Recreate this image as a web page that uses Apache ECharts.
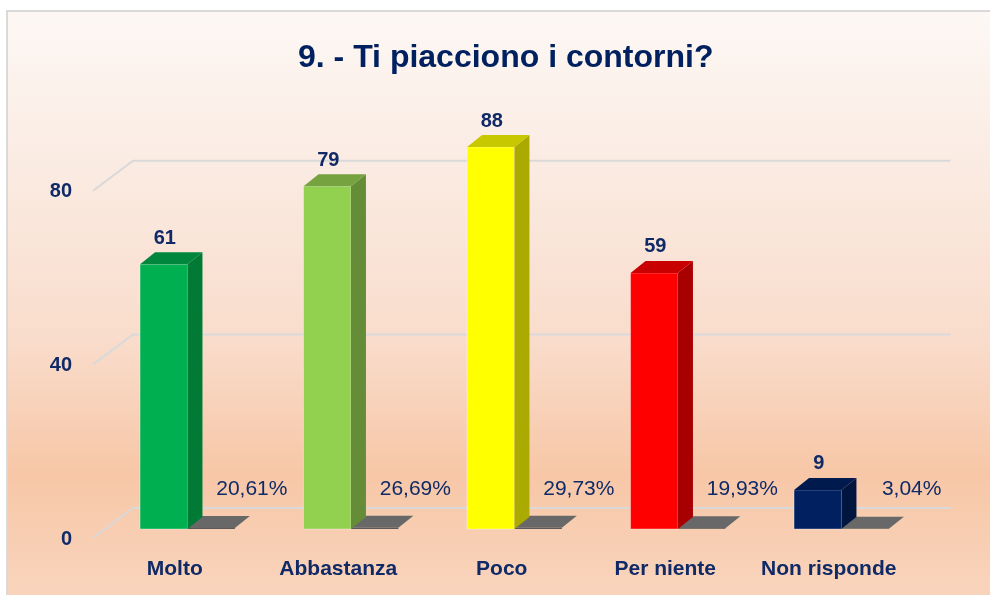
<!DOCTYPE html>
<html>
<head>
<meta charset="utf-8">
<title>9. - Ti piacciono i contorni?</title>
<script src="https://cdn.jsdelivr.net/npm/echarts@6/dist/echarts.min.js"></script>
<style>
html, body { margin: 0; padding: 0; background: #fff; }
#main { width: 990px; height: 595px; }
</style>
</head>
<body>
<div id="main"></div>
<script>
// dati
var categories = ['Molto', 'Abbastanza', 'Poco', 'Per niente', 'Non risponde'];
var counts = [61, 79, 88, 59, 9];
var percents = [20.61, 26.69, 29.73, 19.93, 3.04];
var yTicks = [0, 40, 80];

// colori delle facce (fronte / sopra / lato)
var frontColors = ['#00b050', '#92d050', '#ffff00', '#ff0000', '#002060'];
var topColors = ['#00873d', '#76a340', '#c8c800', '#c80000', '#001a4e'];
var sideColors = ['#007a35', '#658d37', '#aaaa00', '#a80000', '#00163f'];

var navy = '#0f2a66';
var font = 'Liberation Sans';
var DX = 15, DY = 12;

var barData = categories.map(function (c, i) { return [i, counts[i]]; });
var pctData = categories.map(function (c, i) { return [i, percents[i] / 100, percents[i]]; });
var gridData = yTicks.map(function (v) { return [v]; });

function renderBar(params, api) {
    var i = api.value(0);
    var base = api.coord([i, 0]);
    var top = api.coord([i, api.value(1)]);
    var w = api.size([1, 0])[0] * 0.29;
    var x0 = base[0] - w / 2, x1 = base[0] + w / 2;
    return {
        type: 'group',
        children: [
            { type: 'rect', shape: { x: x0, y: top[1], width: w, height: base[1] - top[1] },
              style: { fill: frontColors[i], stroke: 'rgba(255,255,255,0.35)', lineWidth: 1 } },
            { type: 'polygon', shape: { points: [[x1, top[1]], [x1 + DX, top[1] - DY], [x1 + DX, base[1] - DY], [x1, base[1]]] },
              style: { fill: sideColors[i] } },
            { type: 'polygon', shape: { points: [[x0, top[1]], [x0 + DX, top[1] - DY], [x1 + DX, top[1] - DY], [x1, top[1]]] },
              style: { fill: topColors[i] } },
            { type: 'text', style: { text: String(api.value(1)), x: base[0] + 1, y: top[1] - DY - 4,
              align: 'center', verticalAlign: 'bottom', fill: navy, font: 'bold 20px "' + font + '"' } }
        ]
    };
}

function renderShadow(params, api) {
    var i = api.value(0);
    var base = api.coord([i, 0]);
    var top = api.coord([i, api.value(1)]);
    var w = api.size([1, 0])[0] * 0.29;
    var x0 = base[0] + w / 2, x1 = x0 + w;
    return {
        type: 'group',
        children: [
            { type: 'rect', shape: { x: x0, y: top[1], width: w, height: base[1] - top[1] },
              style: { fill: '#5a5a5a' } },
            { type: 'polygon', shape: { points: [[x0, top[1]], [x0 + DX, top[1] - DY], [x1 + DX, top[1] - DY], [x1, top[1]]] },
              style: { fill: '#686868' } },
            { type: 'text', style: { text: api.value(2).toFixed(2).replace('.', ',') + '%', x: x0 + 100, y: base[1] - 40,
              align: 'right', verticalAlign: 'middle', fill: navy, font: '21px "' + font + '"' } }
        ]
    };
}

function renderGrid(params, api) {
    var y = api.coord([0, api.value(0)])[1];
    var cs = params.coordSys;
    return {
        type: 'polyline',
        shape: { points: [[cs.x + 11, y + 9], [cs.x + 51, y - 21], [cs.x + cs.width + 51, y - 21]] },
        style: { stroke: '#d9d9d9', lineWidth: 2, fill: null }
    };
}

var chart = echarts.init(document.getElementById('main'));
chart.setOption({
    backgroundColor: '#ffffff',
    animation: false,
    graphic: [{
        type: 'rect', z: -10, silent: true,
        shape: { x: 7, y: 11, width: 1000, height: 600 },
        style: {
            stroke: '#d9d9d9', lineWidth: 2,
            fill: new echarts.graphic.LinearGradient(0, 0, 0, 1, [
                { offset: 0, color: '#fdf8f5' },
                { offset: 0.3, color: '#fae9df' },
                { offset: 0.55, color: '#f9dccb' },
                { offset: 0.77, color: '#f7c7a7' },
                { offset: 1, color: '#f9d6bf' }
            ])
        }
    }],
    title: {
        text: '9. - Ti piacciono i contorni?',
        left: 298, top: 42, padding: 0,
        textStyle: { color: '#002060', fontSize: 32, fontWeight: 'bold', fontFamily: font }
    },
    grid: { left: 82, right: 90.5, top: 95, bottom: 66 },
    xAxis: {
        type: 'category', data: categories,
        axisLine: { show: false }, axisTick: { show: false },
        axisLabel: { interval: 0, hideOverlap: false, margin: 30, padding: [0, 0, 0, 22],
                     color: navy, fontSize: 21, fontWeight: 'bold', fontFamily: font }
    },
    yAxis: {
        type: 'value', min: 0, max: 100,
        splitLine: { show: false }, axisLine: { show: false }, axisTick: { show: false },
        axisLabel: { customValues: yTicks, margin: 10, verticalAlign: 'top',
                     color: navy, fontSize: 20, fontWeight: 'bold', fontFamily: font }
    },
    series: [
        { type: 'custom', name: 'griglia', z: 1, renderItem: renderGrid, data: gridData, silent: true },
        { type: 'custom', name: 'percentuale', z: 2, renderItem: renderShadow, data: pctData },
        { type: 'custom', name: 'risposte', z: 3, renderItem: renderBar, data: barData }
    ]
});
</script>
</body>
</html>
